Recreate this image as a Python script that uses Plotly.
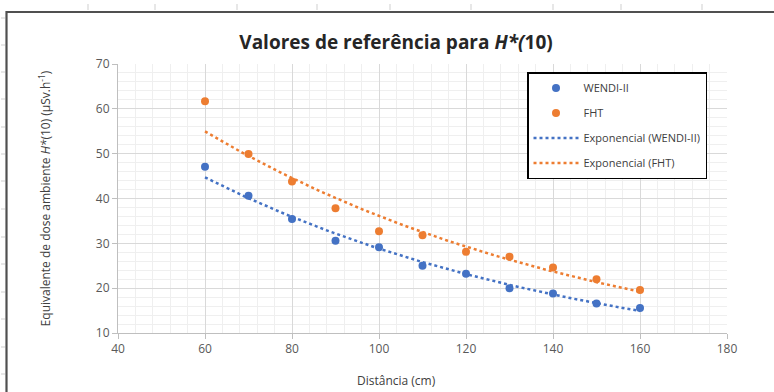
import numpy as np
import plotly.graph_objects as go

# Distances (cm) and measured ambient dose equivalent rates (µSv/h)
distancia = [60, 70, 80, 90, 100, 110, 120, 130, 140, 150, 160]
wendi = [47.1, 40.6, 35.4, 30.6, 29.1, 25.0, 23.2, 20.0, 18.8, 16.6, 15.6]
fht = [61.7, 49.9, 43.8, 37.8, 32.7, 31.8, 28.1, 27.0, 24.6, 22.0, 19.6]

nomes = ["WENDI-II", "FHT"]
cores = ["#4472C4", "#ED7D31"]

W, H = 774, 392
L, R, T, B = 118, 47, 64, 59
PW, PH = W - L - R, H - T - B


def px(xp):
    return (xp - L) / PW


def py(yp):
    return (H - B - yp) / PH


def exp_fit(x, y):
    # exponential trendline y = a*exp(b*x), least squares on ln(y)
    b, ln_a = np.polyfit(np.asarray(x, float), np.log(y), 1)
    xs = np.linspace(min(x), max(x), 200)
    return xs, np.exp(ln_a) * np.exp(b * xs)


fig = go.Figure()
series = [wendi, fht]
for i, (nome, cor, ys) in enumerate(zip(nomes, cores, series)):
    fig.add_trace(go.Scatter(
        x=distancia, y=ys, mode="markers", name=nome,
        marker=dict(color=cor, size=8), legendgroup=f"g{i}", legendrank=i + 1,
    ))
for i, (nome, cor, ys) in enumerate(zip(nomes, cores, series)):
    xs, yf = exp_fit(distancia, ys)
    fig.add_trace(go.Scatter(
        x=xs, y=yf, mode="lines", name=f"Exponencial ({nome})",
        line=dict(color=cor, width=2.5, dash="dot"),
        legendgroup=f"t{i}", legendrank=i + 3,
    ))

axis_common = dict(
    showline=True, linecolor="#bfbfbf", linewidth=1,
    showgrid=True, gridcolor="#d9d9d9", gridwidth=1,
    ticks="outside", ticklen=5, tickcolor="#bfbfbf",
    tickfont=dict(family="Open Sans", size=12, color="#595959"),
    zeroline=False,
    minor=dict(showgrid=True, gridcolor="#efefef", gridwidth=1),
)

fig.update_xaxes(
    range=[40, 180], dtick=20, tick0=40, minor_dtick=4,
    **axis_common,
)
fig.update_yaxes(
    range=[10, 70], dtick=10, tick0=10, minor_dtick=2,
    title=dict(text="Equivalente de dose ambiente <i>H*</i>(10) (µSv.h<sup>-1</sup>)",
               font=dict(family="Open Sans", size=12, color="#404040"), standoff=42),
    **axis_common,
)

# Outer chart frame and faint sheet gridline ticks around it
shapes = [
    dict(type="line", xref="paper", yref="paper", x0=px(6.5), x1=px(W + 5), y0=py(12), y1=py(12),
         line=dict(color="#505050", width=2.2)),
    dict(type="line", xref="paper", yref="paper", x0=px(6.5), x1=px(6.5), y0=py(11), y1=py(H + 5),
         line=dict(color="#505050", width=2.2)),
]
for xt in [88, 155, 237, 317, 390, 471, 553, 621, 702]:
    shapes.append(dict(type="line", xref="paper", yref="paper", x0=px(xt), x1=px(xt),
                       y0=py(4), y1=py(10), line=dict(color="#cfcfcf", width=1)))
for yt in [18, 45, 72, 99, 127, 154, 181, 209, 237, 264, 292, 319, 347, 374]:
    shapes.append(dict(type="line", xref="paper", yref="paper", x0=px(1), x1=px(5),
                       y0=py(yt), y1=py(yt), line=dict(color="#cfcfcf", width=1)))

fig.add_annotation(
    text="Distância (cm)", xref="paper", yref="paper", x=px(396), y=py(380),
    xanchor="center", yanchor="middle", showarrow=False,
    font=dict(family="Open Sans", size=12, color="#404040"),
)

fig.update_layout(
    width=W, height=H,
    margin=dict(l=L, r=R, t=T, b=B),
    paper_bgcolor="white", plot_bgcolor="white",
    title=dict(text="<b>Valores de referência para <i>H*(</i>10)</b>",
               font=dict(family="Open Sans", size=19, color="#262626"),
               x=396 / W, xanchor="center", y=1 - 42 / H, yanchor="middle"),
    legend=dict(
        x=px(527), y=py(72), xanchor="left", yanchor="top",
        bgcolor="white", bordercolor="#000000", borderwidth=1.5,
        font=dict(family="Open Sans", size=11, color="#404040"),
        tracegroupgap=6, itemwidth=45,
    ),
    shapes=shapes,
)

fig.write_html("out.html")
